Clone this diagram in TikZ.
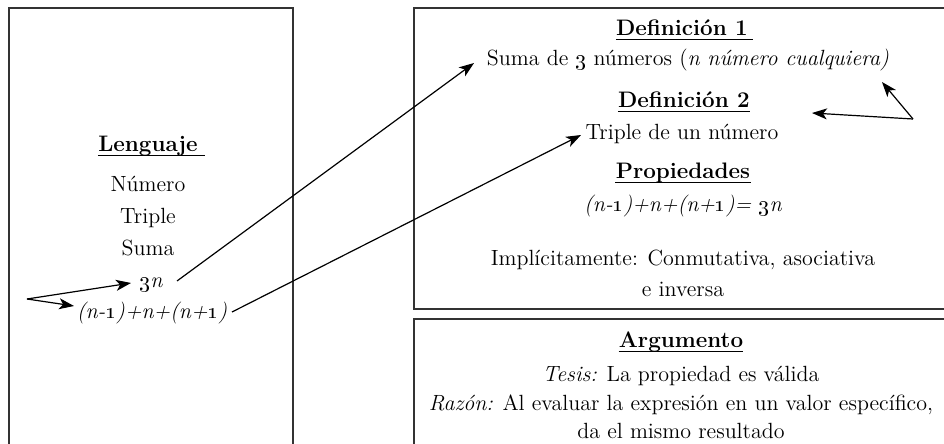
\documentclass[tikz,border=0pt]{standalone}
\usetikzlibrary{arrows.meta}
\begin{document}
\begin{tikzpicture}[x=0.5pt,y=-0.5pt,
  txt/.style={anchor=base,inner sep=0pt,font=\fontsize{11}{13}\selectfont},
  hd/.style={anchor=base,inner sep=0pt,font=\fontsize{11.2}{13}\selectfont\bfseries},
  ul/.style={line width=0.55pt},
  box/.style={draw=black!80,line width=0.9pt},
  arr/.style={line width=0.6pt,-{Stealth[length=7.5pt,width=5.5pt,inset=2pt]}}]
\useasboundingbox (0,0) rectangle (944,444);
% boxes
\draw[box] (9,450) -- (9,8) -- (293,8) -- (293,450);
\draw[box] (950,8) -- (414,8) -- (414,309) -- (950,309);
\draw[box] (950,319) -- (414,319) -- (414,450);
% left texts
\node[hd] (leng) at (148,152) {Lenguaje};
\node[txt] (num) at (148,192) {Número};
\node[txt] (tri) at (148,224) {Triple};
\node[txt] (sum) at (148,256) {Suma};
\node[txt] (tn) at (151,288) {\itshape\oldstylenums{3}n};
\node[txt] (expr) at (152,319) {\itshape(n-\oldstylenums{1})+n+(n+\oldstylenums{1})};
% right top texts
\node[hd] (d1) at (682,36) {Definición 1};
\node[txt] (s3) at (688,66) {Suma de \oldstylenums{3} números (\textit{n número cualquiera)}};
\node[hd] (d2) at (684,108) {Definición 2};
\node[txt] (tdn) at (682,140) {Triple de un número};
\node[hd] (prop) at (683,179) {Propiedades};
\node[txt] (pexpr) at (683,212) {\itshape(n-\oldstylenums{1})+n+(n+\oldstylenums{1})= \oldstylenums{3}n};
\node[txt] (impl) at (683,266) {Implícitamente: Conmutativa, asociativa};
\node[txt] (inv) at (683,297) {e inversa};
% bottom right texts
\node[hd] (arg) at (681,348) {Argumento};
\node[txt] (tes) at (681,381) {\textit{Tesis:} La propiedad es válida};
\node[txt] (raz) at (681,410) {\textit{Razón:} Al evaluar la expresión en un valor específico,};
\node[txt] (da) at (681,438) {da el mismo resultado};
% underlines
\draw[ul] ([yshift=-1.6pt]leng.base west) -- ([yshift=-1.6pt,xshift=3.5pt]leng.base east);
\draw[ul] ([yshift=-1.6pt]d1.base west) -- ([yshift=-1.6pt,xshift=2.5pt]d1.base east);
\draw[ul] ([yshift=-1.6pt]d2.base west) -- ([yshift=-1.6pt]d2.base east);
\draw[ul] ([yshift=-1.6pt]prop.base west) -- ([yshift=-1.6pt]prop.base east);
\draw[ul] ([yshift=-1.6pt]arg.base west) -- ([yshift=-1.6pt]arg.base east);
% connectors
\coordinate (st) at (27,299);
\coordinate (t3n) at (131,283);
\coordinate (texp) at (74,306);
\coordinate (f3n) at (177,281);
\coordinate (fexp) at (232,312);
\coordinate (ts3) at (474,63);
\coordinate (ttdn) at (581,135);
\coordinate (rc) at (913,119);
\coordinate (rup) at (882,82);
\coordinate (rleft) at (812,113);
\draw[arr] (st) -- (t3n);
\draw[arr] (st) -- (texp);
\draw[arr] (f3n) -- (ts3);
\draw[arr] (fexp) -- (ttdn);
\draw[arr] (rc) -- (rup);
\draw[arr] (rc) -- (rleft);
\end{tikzpicture}
\end{document}
